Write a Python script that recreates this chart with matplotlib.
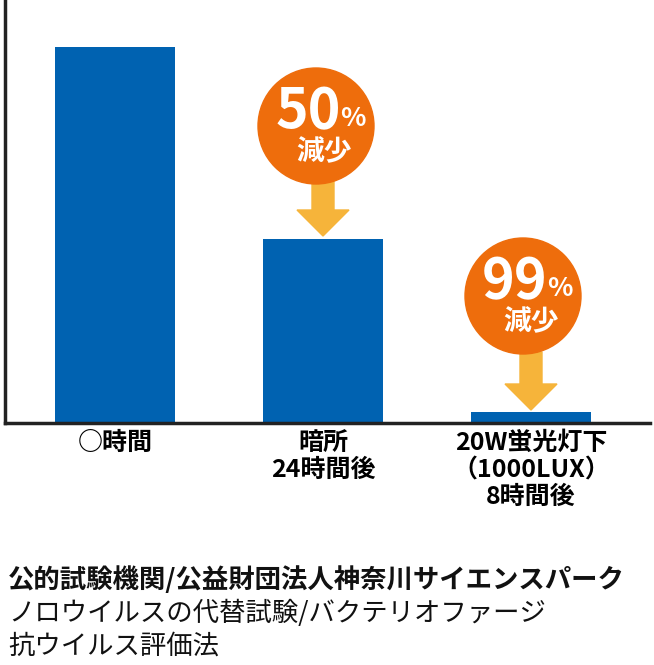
import matplotlib
matplotlib.use("Agg")
import matplotlib.pyplot as plt
from matplotlib.patches import Circle, FancyArrow

categories = ["○時間", "暗所\n24時間後", "20W蛍光灯下\n（1000LUX）\n8時間後"]
values = [100, 49, 3]
badges = [("50", "減少", 1), ("99", "減少", 2)]

W, H = 654, 665
fig = plt.figure(figsize=(W/100, H/100), dpi=100)
font = "Noto Sans CJK JP"
blue = "#0062B1"
orange = "#EE6D0C"
yellow = "#F6B43A"

ax = fig.add_axes([5/W, (H-423)/H, 645/W, 423/H])
ax.bar(range(len(values)), values, width=120/208, color=blue)
ax.set_xlim(-110/208, 2 + 119/208)
ax.set_ylim(0, 100*423/376)
for s in ["top", "right"]:
    ax.spines[s].set_visible(False)
for s in ["left", "bottom"]:
    ax.spines[s].set_linewidth(2.5)
    ax.spines[s].set_color("#222222")
ax.set_yticks([])
ax.set_xticks(range(len(categories)))
ax.set_xticklabels(categories, fontfamily=font, fontweight="bold", fontsize=18, linespacing=1.15)
ax.tick_params(axis="x", length=0, pad=6)

ov = fig.add_axes([0, 0, 1, 1])
ov.set_xlim(0, W); ov.set_ylim(H, 0); ov.axis("off")
centers = [(316, 126), (523, 296)]
arrow_y = [(180, 236), (352, 410)]
for (num, txt, i), (cx, cy), (ay0, ay1) in zip(badges, centers, arrow_y):
    ax_x = 323 if i == 1 else 531
    ov.add_patch(FancyArrow(ax_x, ay0, 0, ay1-ay0, width=22, head_width=52,
                            head_length=26, length_includes_head=True, color=yellow, zorder=2))
    ov.add_patch(Circle((cx, cy), 58, color=orange, zorder=3))
    ov.text(cx-8, cy-14, num, fontfamily=font, fontweight="bold", fontsize=40,
            color="white", ha="center", va="center", zorder=4)
    ov.text(cx+37, cy-8, "%", fontfamily=font, fontweight="bold", fontsize=19,
            color="white", ha="center", va="center", zorder=4)
    ov.text(cx+8, cy+26, txt, fontfamily=font, fontweight="bold", fontsize=20,
            color="white", ha="center", va="center", zorder=4)

ov.text(8, 580, "公的試験機関/公益財団法人神奈川サイエンスパーク", fontfamily=font,
        fontweight="bold", fontsize=19, color="#111111", va="center")
ov.text(8, 613, "ノロウイルスの代替試験/バクテリオファージ", fontfamily=font,
        fontsize=19, color="#111111", va="center")
ov.text(8, 646, "抗ウイルス評価法", fontfamily=font, fontsize=19, color="#111111", va="center")

fig.savefig("out.png", dpi=100)
